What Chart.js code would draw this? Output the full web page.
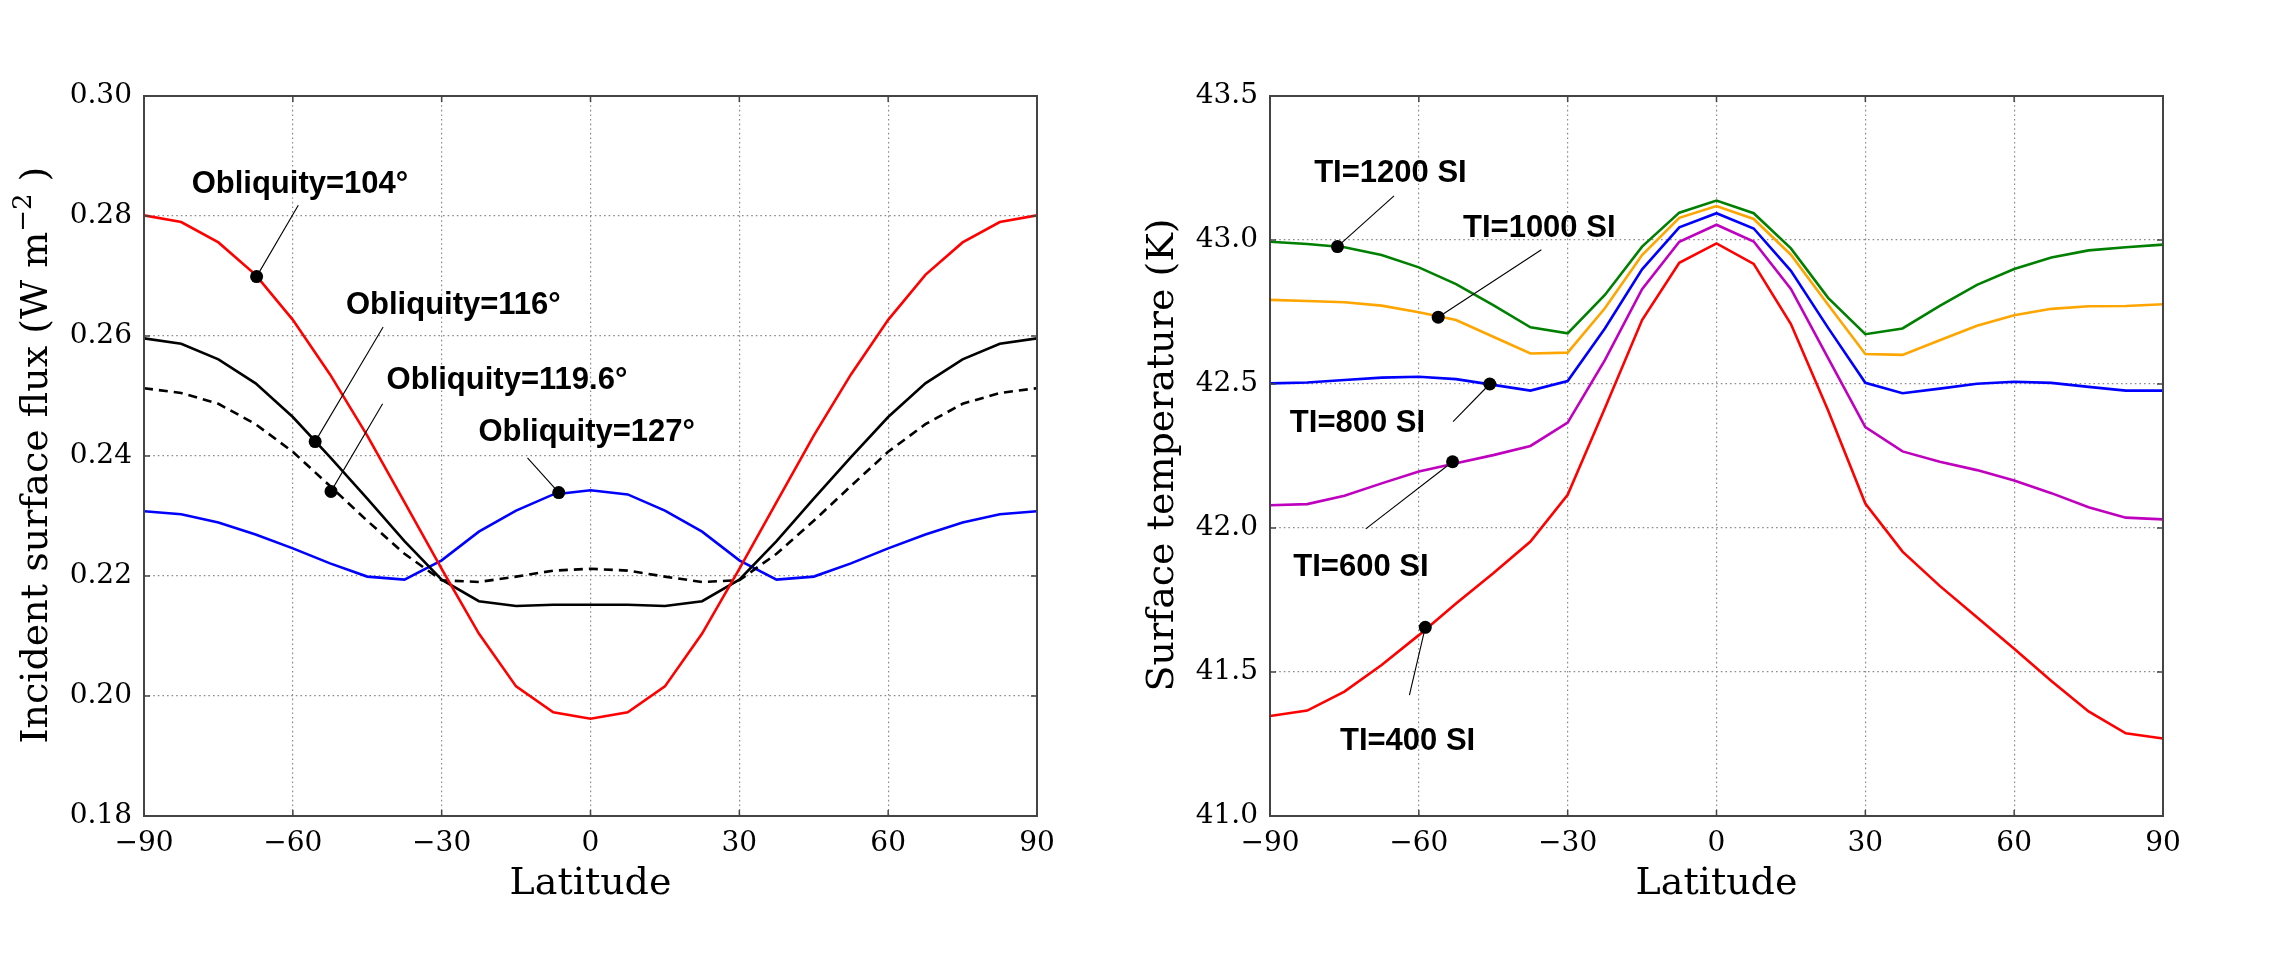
<!DOCTYPE html>
<html><head><meta charset="utf-8">
<script src="https://cdn.jsdelivr.net/npm/chart.js@4.4.1/dist/chart.umd.min.js"></script>
<style>
html,body{margin:0;padding:0;background:#fff;}
#wrap{position:relative;width:2278px;height:960px;background:#fff;}
canvas{position:absolute;top:0;}
</style></head><body>
<div id="wrap">
<canvas id="c1" width="1139" height="960" style="left:0px"></canvas>
<canvas id="c2" width="1139" height="960" style="left:1139px"></canvas>
</div>
<script>
// ---------- data ----------
const latitudes = [-90,-82.5,-75,-67.5,-60,-52.5,-45,-37.5,-30,-22.5,-15,-7.5,0,7.5,15,22.5,30,37.5,45,52.5,60,67.5,75,82.5,90];
const xTicks = [-90,-60,-30,0,30,60,90];

// left panel: incident surface flux (W m^-2)
const flux104 = [0.2801,0.2790,0.2756,0.2702,0.2627,0.2536,0.2434,0.2323,0.2212,0.2104,0.2016,0.1973,0.1962,0.1973,0.2016,0.2104,0.2212,0.2323,0.2434,0.2536,0.2627,0.2702,0.2756,0.2790,0.2801];
const flux116 = [0.2596,0.2587,0.2561,0.2521,0.2465,0.2398,0.2329,0.2258,0.2194,0.2158,0.2150,0.2152,0.2152,0.2152,0.2150,0.2158,0.2194,0.2258,0.2329,0.2398,0.2465,0.2521,0.2561,0.2587,0.2596];
const flux1196 = [0.2513,0.2505,0.2487,0.2453,0.2407,0.2350,0.2292,0.2237,0.2193,0.2190,0.2199,0.2209,0.2212,0.2209,0.2199,0.2190,0.2193,0.2237,0.2292,0.2350,0.2407,0.2453,0.2487,0.2505,0.2513];
const flux127 = [0.2308,0.2303,0.2289,0.2269,0.2246,0.2221,0.2199,0.2194,0.2226,0.2274,0.2309,0.2336,0.2343,0.2336,0.2309,0.2274,0.2226,0.2194,0.2199,0.2221,0.2246,0.2269,0.2289,0.2303,0.2308];
const fluxTicks = [0.18,0.20,0.22,0.24,0.26,0.28,0.30];

// right panel: surface temperature (K)
const temp1200 = [42.994,42.986,42.975,42.948,42.905,42.847,42.774,42.697,42.676,42.809,42.977,43.095,43.137,43.093,42.971,42.799,42.673,42.693,42.771,42.844,42.899,42.939,42.964,42.975,42.984];
const temp1000 = [42.792,42.788,42.784,42.772,42.749,42.722,42.664,42.606,42.609,42.763,42.948,43.077,43.118,43.073,42.949,42.775,42.604,42.601,42.652,42.702,42.739,42.761,42.770,42.771,42.777];
const temp800  = [42.502,42.505,42.514,42.522,42.525,42.517,42.497,42.477,42.510,42.693,42.898,43.044,43.093,43.040,42.893,42.695,42.504,42.468,42.484,42.501,42.508,42.504,42.490,42.477,42.477];
const temp600  = [42.079,42.083,42.112,42.155,42.196,42.225,42.253,42.285,42.366,42.583,42.829,42.994,43.053,42.995,42.830,42.590,42.350,42.266,42.230,42.201,42.165,42.121,42.072,42.036,42.030];
const temp400  = [41.347,41.366,41.432,41.524,41.628,41.738,41.843,41.953,42.115,42.416,42.722,42.921,42.988,42.917,42.708,42.408,42.085,41.918,41.799,41.690,41.581,41.469,41.363,41.287,41.269];
const tempTicks = [41.0,41.5,42.0,42.5,43.0,43.5];

// annotation labels: [text, dot lat, dot value, leader-end lat, leader-end value, text lat, text value]
const fluxLabels = [
  ['Obliquity=104\u00B0',  -67.3, 0.2699, -58.9, 0.2818, -80.4, 0.2839],
  ['Obliquity=116\u00B0',  -55.5, 0.2424, -41.8, 0.2615, -49.3, 0.2636],
  ['Obliquity=119.6\u00B0',-52.3, 0.2341, -41.9, 0.2487, -41.1, 0.2512],
  ['Obliquity=127\u00B0',   -6.4, 0.2339, -12.7, 0.2397, -22.6, 0.2425]
];
const tempLabels = [
  ['TI=1200 SI', -76.4, 42.977, -65.0, 43.153, -81.1, 43.202],
  ['TI=1000 SI', -56.1, 42.732, -35.3, 42.966, -51.1, 43.011],
  ['TI=800 SI',  -45.7, 42.500, -53.1, 42.369, -86.0, 42.334],
  ['TI=600 SI',  -53.2, 42.230, -70.7, 41.997, -85.3, 41.833],
  ['TI=400 SI',  -58.7, 41.655, -61.9, 41.420, -75.9, 41.229]
];

// ---------- helpers ----------
const pts = (vals) => latitudes.map((lat, i) => ({x: lat, y: vals[i]}));
const serif = '"DejaVu Serif", serif';

function lineDs(vals, color, dash) {
  return {data: pts(vals), borderColor: color, backgroundColor: color, borderWidth: 2.6,
          pointRadius: 0, tension: 0, fill: false, borderDash: dash || [], order: 2};
}
function dotDs(labels) {
  return {type: 'scatter', data: labels.map(l => ({x: l[1], y: l[2]})), pointRadius: 6.5,
          pointBackgroundColor: '#000', pointBorderColor: '#000', pointBorderWidth: 0, showLine: false, order: 0};
}

function decorPlugin(labels, yTitleParts, yTitleX) {
  return {
    id: 'decor',
    afterDraw(chart) {
      const {ctx, chartArea: a, scales: {x, y}} = chart;
      ctx.save();
      // leader lines
      ctx.strokeStyle = '#000'; ctx.lineWidth = 1.1;
      labels.forEach(l => {
        ctx.beginPath();
        ctx.moveTo(x.getPixelForValue(l[1]), y.getPixelForValue(l[2]));
        ctx.lineTo(x.getPixelForValue(l[3]), y.getPixelForValue(l[4]));
        ctx.stroke();
      });
      // label texts
      ctx.fillStyle = '#000';
      ctx.font = 'bold 31px "Liberation Sans", Arial, sans-serif';
      ctx.textAlign = 'left'; ctx.textBaseline = 'alphabetic';
      labels.forEach(l => ctx.fillText(l[0], x.getPixelForValue(l[5]), y.getPixelForValue(l[6])));
      // frame
      ctx.strokeStyle = '#444'; ctx.lineWidth = 2;
      ctx.strokeRect(a.left, a.top, a.right - a.left, a.bottom - a.top);
      // inward ticks
      ctx.lineWidth = 1.5;
      const seg = (x1, y1, x2, y2) => { ctx.beginPath(); ctx.moveTo(x1, y1); ctx.lineTo(x2, y2); ctx.stroke(); };
      x.ticks.forEach(t => { const p = x.getPixelForValue(t.value); seg(p, a.bottom, p, a.bottom - 6); seg(p, a.top, p, a.top + 6); });
      y.ticks.forEach(t => { const p = y.getPixelForValue(t.value); seg(a.left, p, a.left + 6, p); seg(a.right, p, a.right - 6, p); });
      // x title
      ctx.fillStyle = '#000';
      ctx.font = '38px ' + serif;
      ctx.textAlign = 'center'; ctx.textBaseline = 'alphabetic';
      ctx.fillText('Latitude', (a.left + a.right) / 2, a.bottom + 78);
      // y title (rotated, with optional superscript)
      ctx.translate(yTitleX, (a.top + a.bottom) / 2 - 1);
      ctx.rotate(-Math.PI / 2);
      ctx.textAlign = 'left';
      const main = '38px ' + serif, sup = '26px ' + serif;
      let total = 0;
      yTitleParts.forEach(p => { ctx.font = p[1] ? sup : main; total += ctx.measureText(p[0]).width; });
      let cx = -total / 2;
      yTitleParts.forEach(p => {
        ctx.font = p[1] ? sup : main;
        ctx.fillText(p[0], cx, p[1] ? -16 : 0);
        cx += ctx.measureText(p[0]).width;
      });
      ctx.restore();
    }
  };
}

function makeChart(id, datasets, yMin, yMax, yStep, yDigits, yTicksList, labels, yTitleParts, yTitleX, areaLeft, padRight) {
  return new Chart(document.getElementById(id), {
    type: 'line',
    data: {datasets},
    options: {
      responsive: false, animation: false, devicePixelRatio: 1,
      layout: {padding: {left: 0, right: padRight, top: 96, bottom: 84}},
      plugins: {legend: {display: false}, tooltip: {enabled: false}},
      scales: {
        x: {type: 'linear', min: -90, max: 90,
            afterBuildTicks: s => { s.ticks = xTicks.map(v => ({value: v})); },
            afterFit: s => { s.height = 60; },
            grid: {color: '#8c8c8c', lineWidth: 1.2, drawTicks: false},
            border: {display: false, dash: [1.6, 3]},
            ticks: {autoSkip: false, maxRotation: 0, padding: 11, color: '#000',
                    font: {family: serif, size: 28},
                    callback: v => v < 0 ? '\u2212' + Math.abs(v) : String(v)}},
        y: {type: 'linear', min: yMin, max: yMax,
            afterBuildTicks: s => { s.ticks = yTicksList.map(v => ({value: v})); },
            afterFit: s => { s.width = areaLeft; },
            grid: {color: '#8c8c8c', lineWidth: 1.2, drawTicks: false},
            border: {display: false, dash: [1.6, 3]},
            ticks: {autoSkip: false, padding: 12, color: '#000',
                    font: {family: serif, size: 28},
                    callback: v => Number(v).toFixed(yDigits)}}
      }
    },
    plugins: [decorPlugin(labels, yTitleParts, yTitleX)]
  });
}

makeChart('c1', [
    dotDs(fluxLabels),
    lineDs(flux104, '#ff0000'),
    lineDs(flux116, '#000000'),
    lineDs(flux1196, '#000000', [9, 6]),
    lineDs(flux127, '#0000ff')
  ], 0.18, 0.30, 0.02, 2, fluxTicks, fluxLabels,
  [['Incident surface flux (W m', false], ['\u22122', true], [' )', false]], 47, 144, 102);

makeChart('c2', [
    dotDs(tempLabels),
    lineDs(temp1200, '#008000'),
    lineDs(temp1000, '#ffa500'),
    lineDs(temp800, '#0000ff'),
    lineDs(temp600, '#bf00bf'),
    lineDs(temp400, '#ff0000')
  ], 41.0, 43.5, 0.5, 1, tempTicks, tempLabels,
  [['Surface temperature (K)', false]], 34, 131, 115);
</script>
</body></html>
